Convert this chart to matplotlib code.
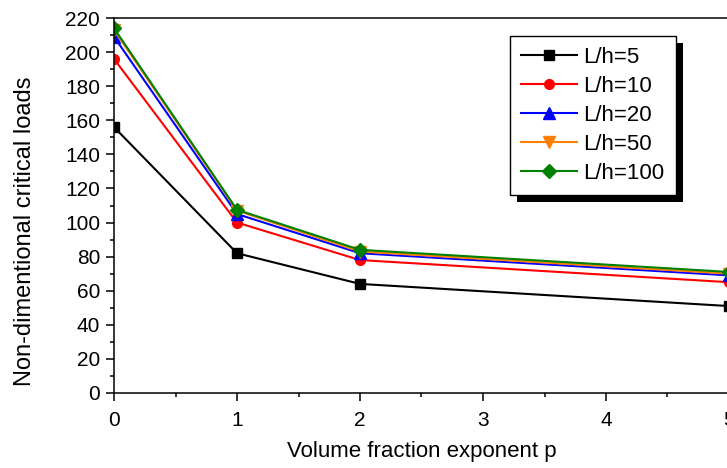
import matplotlib.pyplot as plt
from matplotlib import patheffects

plt.rcParams['font.family'] = ['Liberation Sans', 'DejaVu Sans']

p_values = [0, 1, 2, 5]
labels = ['L/h=5', 'L/h=10', 'L/h=20', 'L/h=50', 'L/h=100']
loads_5 = [156, 82, 64, 51]
loads_10 = [196, 100, 78, 65]
loads_20 = [209, 105, 82, 69]
loads_50 = [213, 107, 83, 70]
loads_100 = [214, 107.5, 84, 71]

colors = ['black', 'red', 'blue', '#FF8000', '#008000']
markers = ['s', 'o', '^', 'v', 'D']
sizes = [6.5, 7, 8, 8, 7]

fig = plt.figure(figsize=(7.27, 4.68), dpi=100)
ax = fig.add_axes([114 / 727, 1 - 393 / 468, 615 / 727, 375 / 468])

all_loads = [loads_5, loads_10, loads_20, loads_50, loads_100]
for loads, lab, c, m, s in zip(all_loads, labels, colors, markers, sizes):
    ax.plot(p_values, loads, color=c, marker=m, markersize=s, linewidth=1.5, label=lab)

ax.set_xlim(0, 5)
ax.set_ylim(0, 220)
ax.set_xticks(range(0, 6))
ax.set_xticks([0.5, 1.5, 2.5, 3.5, 4.5], minor=True)
ax.set_yticks(range(0, 221, 20))
ax.set_yticks(range(10, 220, 20), minor=True)

for sp in ax.spines.values():
    sp.set_linewidth(1.1)
ax.tick_params(which='major', length=6, width=1.1, labelsize=15, direction='out')
ax.tick_params(which='minor', length=3, width=1.1, direction='out')
ax.tick_params(axis='y', pad=4)
ax.tick_params(axis='x', pad=7)

ax.set_xlabel('Volume fraction exponent p', fontsize=16, labelpad=8)
ax.set_ylabel('Non-dimentional critical loads', fontsize=17)
# label sits a bit below the axes centre in the reference
ax.yaxis.set_label_coords(-0.127, 0.43)

leg = ax.legend(loc='upper left', bbox_to_anchor=(510 / 727, 1 - 36 / 468),
                bbox_transform=fig.transFigure, borderaxespad=0,
                fontsize=16, fancybox=False, edgecolor='black', framealpha=1,
                handlelength=2.5, handletextpad=0.3, labelspacing=0.36,
                borderpad=0.5)
frame = leg.get_frame()
frame.set_linewidth(1.0)
frame.set_path_effects([patheffects.SimplePatchShadow(offset=(5, -5), shadow_rgbFace='black', alpha=1),
                        patheffects.Normal()])

fig.savefig('out.png', dpi=100)
